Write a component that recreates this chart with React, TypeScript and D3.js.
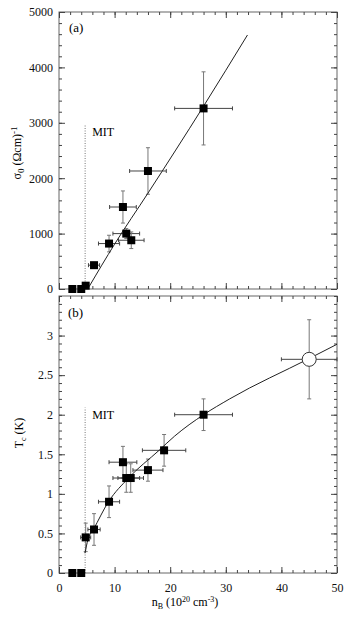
import React, { useEffect, useRef } from 'react';
import * as d3 from 'd3';

// panel (a): conductivity sigma_0 vs boron concentration
const nA = [2.4, 4.0, 4.8, 6.3, 9.0, 11.5, 12.1, 13.0, 16.0, 26.0];
const sigmaA = [0, 0, 60, 430, 820, 1480, 1000, 880, 2130, 3260];
const nErrA = [0, 0, 0, 1.0, 1.9, 2.4, 2.4, 2.3, 3.3, 5.2];
const sigmaErrA = [0, 0, 0, 50, 150, 290, 90, 150, 420, 660];
const fitNA = [5.4, 10, 16, 26, 33.9];
const fitSA = [40, 810, 1730, 3300, 4585];

// panel (b): Tc vs boron concentration
const nB = [2.4, 4.0, 4.8, 6.3, 9.0, 11.5, 12.1, 12.9, 16.0, 18.9, 26.0];
const tcB = [0, 0, 0.45, 0.55, 0.9, 1.4, 1.2, 1.2, 1.3, 1.55, 2.0];
const nErrB = [0, 0, 0.9, 1.1, 1.9, 2.5, 2.4, 2.3, 2.7, 3.9, 5.2];
const tcErrB = [0, 0, 0.18, 0.2, 0.2, 0.2, 0.18, 0.18, 0.14, 0.2, 0.2];
const openN = [45];
const openTc = [2.7];
const openNErr = [5];
const openTcErr = [0.5];
const fitNB = [4.67, 5.2, 6.2, 8.9, 12.5, 18, 20.8, 26, 30.7, 45, 50];
const fitTB = [0.25, 0.42, 0.55, 0.9, 1.2, 1.55, 1.73, 2.0, 2.2, 2.71, 2.89];

const mitN = 4.7;
const xTicks = [0, 10, 20, 30, 40, 50];
const yTicksA = [0, 1000, 2000, 3000, 4000, 5000];
const yTicksB = [0, 0.5, 1, 1.5, 2, 2.5, 3];

const font = "'Liberation Serif', 'Times New Roman', serif";

const App: React.FC = () => {
  const ref = useRef<SVGSVGElement | null>(null);

  useEffect(() => {
    const svg = d3.select(ref.current);
    svg.selectAll('*').remove();

    const left = 59, right = 337;
    const x = d3.scaleLinear().domain([0, 50]).range([left, right]);
    const yA = d3.scaleLinear().domain([0, 5000]).range([289, 12]);
    const yB = d3.scaleLinear().domain([0, 3.5]).range([573, 296]);

    const xMinor = d3.range(0, 50.01, 2);

    const drawFrame = (y: d3.ScaleLinear<number, number>, yMajor: number[], yMinor: number[], showX: boolean, fmt: (d: number) => string) => {
      const [y0, y1] = y.range();
      const g = svg.append('g');
      g.append('rect')
        .attr('x', left).attr('y', y1)
        .attr('width', right - left).attr('height', y0 - y1)
        .attr('fill', 'none').attr('stroke', '#666').attr('stroke-width', 1);

      const axes: [any, number, number, boolean][] = [
        [d3.axisBottom(x).tickValues(xMinor), y0, -3, false],
        [d3.axisBottom(x).tickValues(xTicks), y0, -6, showX],
        [d3.axisTop(x).tickValues(xMinor), y1, -3, false],
        [d3.axisTop(x).tickValues(xTicks), y1, -6, false],
      ];
      axes.forEach(([ax, pos, size, labels]) => {
        const a = g.append('g').attr('transform', `translate(0,${pos})`)
          .call(ax.tickSize(size).tickSizeOuter(0).tickPadding(10)
            .tickFormat(labels ? (d: number) => String(d) : () => ''));
        a.select('.domain').remove();
      });

      const yAxes: [any, number, number, boolean][] = [
        [d3.axisLeft(y).tickValues(yMinor), left, -3, false],
        [d3.axisLeft(y).tickValues(yMajor), left, -6, true],
        [d3.axisRight(y).tickValues(yMinor), right, -3, false],
        [d3.axisRight(y).tickValues(yMajor), right, -6, false],
      ];
      yAxes.forEach(([ax, pos, size, labels]) => {
        const a = g.append('g').attr('transform', `translate(${pos},0)`)
          .call(ax.tickSize(size).tickSizeOuter(0).tickPadding(6)
            .tickFormat(labels ? fmt : () => ''));
        a.select('.domain').remove();
      });

      g.selectAll('.tick line').attr('stroke', '#444');
      g.selectAll('.tick text')
        .style('font-family', font).attr('font-size', 12).attr('fill', '#111');
    };

    drawFrame(yA, yTicksA, d3.range(0, 5000.1, 200), false, d => String(d));
    drawFrame(yB, yTicksB, d3.range(0, 3.501, 0.1).map(v => +v.toFixed(1)), true, d => String(d));

    const errBars = (
      y: d3.ScaleLinear<number, number>,
      xs: number[], ys: number[], xe: number[], ye: number[]
    ) => {
      const g = svg.append('g');
      xs.forEach((n, i) => {
        const cx = x(n), cy = y(ys[i]);
        if (xe[i] > 0) {
          const x1 = x(n - xe[i]), x2 = Math.min(x(n + xe[i]), right);
          g.append('line').attr('x1', x1).attr('x2', x2).attr('y1', cy).attr('y2', cy)
            .attr('stroke', '#444').attr('stroke-width', 1);
          g.append('line').attr('x1', x1).attr('x2', x1).attr('y1', cy - 2).attr('y2', cy + 2)
            .attr('stroke', '#444');
          if (x(n + xe[i]) <= right)
            g.append('line').attr('x1', x2).attr('x2', x2).attr('y1', cy - 2).attr('y2', cy + 2)
              .attr('stroke', '#444');
        }
        if (ye[i] > 0) {
          const y1 = y(ys[i] + ye[i]), y2 = y(ys[i] - ye[i]);
          g.append('line').attr('x1', cx).attr('x2', cx).attr('y1', y1).attr('y2', y2)
            .attr('stroke', '#777').attr('stroke-width', 1);
          [y1, y2].forEach(yy => g.append('line')
            .attr('x1', cx - 2).attr('x2', cx + 2).attr('y1', yy).attr('y2', yy)
            .attr('stroke', '#777'));
        }
      });
    };

    const line = (y: d3.ScaleLinear<number, number>) =>
      d3.line<[number, number]>().x(d => x(d[0])).y(d => y(d[1])).curve(d3.curveMonotoneX);

    // MIT markers
    const mit = (y: d3.ScaleLinear<number, number>, top: number) => {
      svg.append('line')
        .attr('x1', x(mitN)).attr('x2', x(mitN))
        .attr('y1', y(0)).attr('y2', y(top))
        .attr('stroke', '#777').attr('stroke-dasharray', '1,1.5').attr('stroke-width', 1);
      svg.append('text').attr('x', x(mitN) + 7).attr('y', y(top) + 11)
        .style('font-family', font).attr('font-size', 12).text('MIT');
    };
    mit(yA, 2960);
    mit(yB, 2.09);

    // panel (a)
    errBars(yA, nA, sigmaA, nErrA, sigmaErrA);
    svg.append('path')
      .datum(fitNA.map((n, i) => [n, fitSA[i]] as [number, number]))
      .attr('fill', 'none').attr('stroke', '#222').attr('stroke-width', 1)
      .attr('d', line(yA));
    svg.append('g').selectAll('rect').data(nA).join('rect')
      .attr('x', d => x(d) - 4).attr('y', (d, i) => yA(sigmaA[i]) - 4)
      .attr('width', 8).attr('height', 8).attr('fill', '#000');

    // panel (b)
    errBars(yB, nB, tcB, nErrB, tcErrB);
    errBars(yB, openN, openTc, openNErr, openTcErr);
    svg.append('path')
      .datum(fitNB.map((n, i) => [n, fitTB[i]] as [number, number]))
      .attr('fill', 'none').attr('stroke', '#222').attr('stroke-width', 1)
      .attr('d', line(yB));
    svg.append('g').selectAll('rect').data(nB).join('rect')
      .attr('x', d => x(d) - 4).attr('y', (d, i) => yB(tcB[i]) - 4)
      .attr('width', 8).attr('height', 8).attr('fill', '#000');
    svg.append('g').selectAll('circle').data(openN).join('circle')
      .attr('cx', d => x(d)).attr('cy', (d, i) => yB(openTc[i]))
      .attr('r', 7).attr('fill', '#fff').attr('stroke', '#333').attr('stroke-width', 1);

    // panel labels
    svg.append('text').attr('x', 69).attr('y', 32)
      .style('font-family', font).attr('font-size', 13).text('(a)');
    svg.append('text').attr('x', 68).attr('y', 317)
      .style('font-family', font).attr('font-size', 13).text('(b)');

    // y titles
    const tA = svg.append('text')
      .attr('transform', 'translate(21,153) rotate(-90)')
      .attr('text-anchor', 'middle')
      .style('font-family', font).attr('font-size', 12);
    tA.append('tspan').text('σ');
    tA.append('tspan').attr('baseline-shift', '-35%').attr('font-size', 9).text('0');
    tA.append('tspan').text(' (Ωcm)');
    tA.append('tspan').attr('baseline-shift', '45%').attr('font-size', 9).text('-1');

    const tB = svg.append('text')
      .attr('transform', 'translate(23,433) rotate(-90)')
      .attr('text-anchor', 'middle')
      .style('font-family', font).attr('font-size', 12);
    tB.append('tspan').text('T');
    tB.append('tspan').attr('baseline-shift', '-35%').attr('font-size', 8).text('c');
    tB.append('tspan').text(' (K)');

    // x title
    const tX = svg.append('text')
      .attr('x', 185).attr('y', 606)
      .attr('text-anchor', 'middle')
      .style('font-family', font).attr('font-size', 12);
    tX.append('tspan').text('n');
    tX.append('tspan').attr('baseline-shift', '-35%').attr('font-size', 8).text('B');
    tX.append('tspan').text(' (10');
    tX.append('tspan').attr('baseline-shift', '45%').attr('font-size', 8).text('20');
    tX.append('tspan').text(' cm');
    tX.append('tspan').attr('baseline-shift', '45%').attr('font-size', 8).text('-3');
    tX.append('tspan').text(')');
  }, []);

  return (
    <div style={{ position: 'absolute', left: 0, top: 0 }}>
      <svg ref={ref} width={350} height={620} style={{ display: 'block', background: '#fff' }}></svg>
    </div>
  );
};

export default App;
